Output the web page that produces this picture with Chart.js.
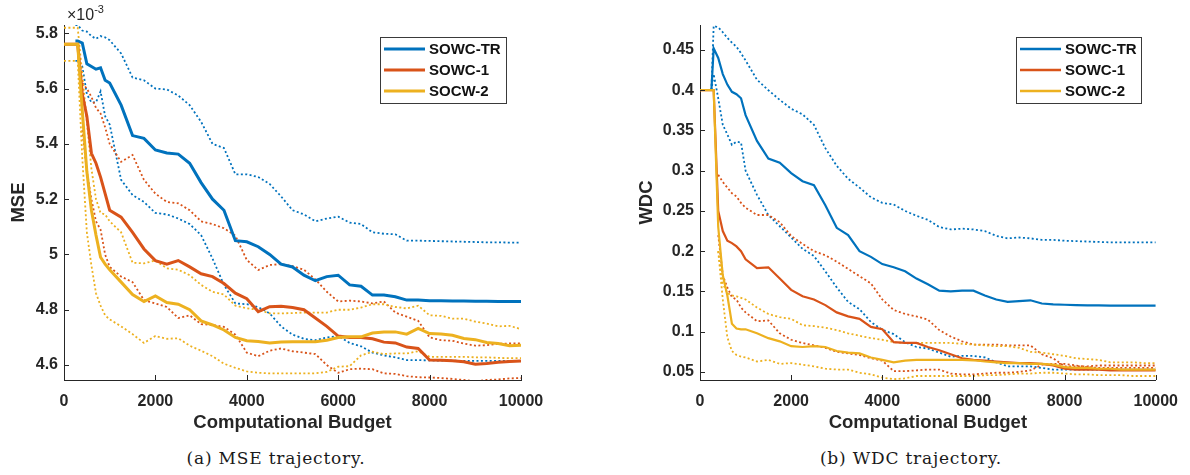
<!DOCTYPE html>
<html>
<head>
<meta charset="utf-8">
<script src="https://cdn.jsdelivr.net/npm/chart.js@4.4.1/dist/chart.umd.min.js"></script>
<style>
html,body{margin:0;padding:0;background:#fff;}
body{width:1190px;height:475px;position:relative;overflow:hidden;}
canvas{position:absolute;top:0;}
#c1{left:0;}
#c2{left:620px;}
.cap{position:absolute;top:447px;font-family:'DejaVu Serif','Liberation Serif',serif;font-size:17px;letter-spacing:0.8px;color:#1a1a1a;transform:translateX(-50%);white-space:nowrap;line-height:22px;}
.mult{position:absolute;left:67px;top:1px;font-family:'Liberation Sans',Arial,sans-serif;font-size:16px;color:#262626;line-height:18px}
.mult sup{font-size:11px;position:relative;top:-1px}
</style>
</head>
<body>
<canvas id="c1" width="560" height="440"></canvas>
<canvas id="c2" width="570" height="440"></canvas>
<div class="mult">×10<sup>-3</sup></div>
<div class="cap" style="left:276px">(a) MSE trajectory.</div>
<div class="cap" style="left:911px">(b) WDC trajectory.</div>
<script>
// ---------- data ----------
const budget = [0,250,300,400,500,600,700,800,900,1000,
  1250,1500,1750,2000,2250,2500,2750,3000,3250,3500,
  3750,4000,4250,4500,4750,5000,5250,5500,5750,6000,
  6250,6500,6750,7000,7250,7500,7750,8000,8250,8500,
  8750,9000,9250,9500,9750,10000];

const xTicks = [0,2000,4000,6000,8000,10000];
const mseTicks = [4.6,4.8,5,5.2,5.4,5.6,5.8];
const wdcTicks = [0.05,0.1,0.15,0.2,0.25,0.3,0.35,0.4,0.45];
const mseNames = ['SOWC-TR','SOWC-1','SOCW-2'];
const wdcNames = ['SOWC-TR','SOWC-1','SOWC-2'];

// MSE (x10^-3)
const mseTR = [null,5.772,5.772,5.765,5.69,5.68,5.67,5.675,5.63,5.62,
  5.54,5.43,5.42,5.378,5.367,5.363,5.33,5.26,5.2,5.16,
  5.05,5.046,5.028,5.0,4.965,4.955,4.925,4.905,4.92,4.925,
  4.89,4.885,4.853,4.853,4.847,4.835,4.835,4.833,4.833,4.832,
  4.832,4.831,4.831,4.83,4.83,4.83];
const mseTRHi = [null,5.83,5.83,5.81,5.806,5.79,5.78,5.79,5.785,5.775,
  5.727,5.64,5.63,5.60,5.597,5.575,5.54,5.48,5.40,5.385,
  5.29,5.29,5.28,5.255,5.21,5.16,5.145,5.12,5.13,5.137,
  5.115,5.11,5.08,5.075,5.073,5.05,5.05,5.049,5.048,5.047,
  5.046,5.045,5.044,5.044,5.043,5.043];
const mseTRLo = [null,5.70,5.70,5.68,5.58,5.55,5.55,5.59,5.50,5.47,
  5.27,5.215,5.19,5.15,5.145,5.13,5.11,5.07,4.985,4.89,
  4.823,4.82,4.81,4.787,4.74,4.71,4.695,4.69,4.70,4.705,
  4.68,4.668,4.645,4.635,4.628,4.618,4.618,4.617,4.616,4.616,
  4.615,4.615,4.615,4.615,4.615,4.615];
const mse1 = [5.76,5.76,5.76,5.58,5.50,5.366,5.33,5.28,5.22,5.16,
  5.135,5.08,5.02,4.978,4.965,4.978,4.955,4.93,4.92,4.895,
  4.86,4.84,4.793,4.811,4.813,4.808,4.80,4.77,4.74,4.705,
  4.70,4.70,4.695,4.683,4.68,4.665,4.66,4.618,4.617,4.616,
  4.612,4.603,4.606,4.61,4.613,4.615];
const mse1Hi = [null,null,null,5.62,5.60,5.57,5.53,5.51,5.46,5.40,
  5.335,5.36,5.27,5.22,5.19,5.185,5.16,5.12,5.11,5.095,
  5.068,4.98,4.944,4.962,4.965,4.958,4.945,4.91,4.865,4.83,
  4.833,4.83,4.823,4.83,4.79,4.775,4.76,4.70,4.69,4.688,
  4.678,4.67,4.672,4.677,4.678,4.678];
const mse1Lo = [null,null,null,5.45,5.30,5.20,5.12,5.09,5.0,4.955,
  4.92,4.90,4.835,4.823,4.81,4.77,4.78,4.748,4.745,4.738,
  4.71,4.645,4.632,4.652,4.66,4.65,4.645,4.64,4.60,4.572,
  4.585,4.587,4.585,4.57,4.568,4.56,4.556,4.555,4.553,4.55,
  4.546,4.542,4.546,4.548,4.552,4.553];
const mse2 = [5.76,5.76,5.76,5.52,5.30,5.16,5.07,4.99,4.965,4.945,
  4.90,4.855,4.83,4.85,4.826,4.82,4.80,4.76,4.745,4.727,
  4.70,4.688,4.685,4.68,4.683,4.684,4.684,4.684,4.69,4.70,
  4.702,4.702,4.716,4.72,4.72,4.712,4.733,4.714,4.712,4.708,
  4.696,4.692,4.682,4.678,4.67,4.672];
const mse2Hi = [5.82,5.82,5.82,5.65,5.48,5.31,5.20,5.15,5.145,5.12,
  5.08,4.97,4.968,4.978,4.95,4.945,4.925,4.89,4.865,4.855,
  4.815,4.805,4.80,4.787,4.787,4.788,4.79,4.79,4.79,4.80,
  4.80,4.808,4.82,4.82,4.81,4.805,4.815,4.78,4.778,4.768,
  4.768,4.757,4.75,4.74,4.742,4.73];
const mse2Lo = [5.70,5.70,5.70,5.35,5.08,4.96,4.86,4.815,4.78,4.765,
  4.74,4.712,4.68,4.705,4.695,4.697,4.67,4.652,4.632,4.605,
  4.59,4.577,4.572,4.57,4.57,4.57,4.57,4.57,4.575,4.594,
  4.596,4.635,4.648,4.64,4.642,4.642,4.65,4.63,4.63,4.63,
  4.63,4.628,4.628,4.626,4.625,4.625];

// WDC
const wdcTR = [null,0.40,0.452,0.44,0.42,0.407,0.398,0.395,0.39,0.369,
  0.337,0.315,0.31,0.297,0.287,0.282,0.257,0.229,0.22,0.2,
  0.193,0.184,0.18,0.175,0.166,0.159,0.151,0.15,0.151,0.151,
  0.145,0.14,0.137,0.138,0.139,0.135,0.134,0.1335,0.133,0.1327,
  0.1326,0.1325,0.1325,0.1325,0.1325,0.1325];
const wdcTRHi = [null,0.40,0.48,0.478,0.472,0.465,0.459,0.454,0.446,0.437,
  0.413,0.40,0.388,0.377,0.37,0.357,0.328,0.306,0.29,0.279,
  0.267,0.26,0.258,0.25,0.244,0.239,0.23,0.227,0.228,0.227,
  0.225,0.219,0.216,0.217,0.216,0.214,0.214,0.213,0.2125,0.212,
  0.2115,0.211,0.211,0.211,0.211,0.211];
const wdcTRLo = [null,0.40,0.42,0.39,0.357,0.345,0.332,0.336,0.335,0.30,
  0.27,0.245,0.231,0.217,0.203,0.194,0.175,0.155,0.137,0.128,
  0.112,0.1025,0.097,0.087,0.081,0.079,0.074,0.069,0.07,0.07,
  0.068,0.062,0.057,0.057,0.057,0.055,0.053,0.053,0.053,0.053,
  0.053,0.053,0.053,0.053,0.053,0.053];
const wdc1 = [0.40,0.40,0.40,0.25,0.225,0.213,0.21,0.206,0.2,0.19,
  0.179,0.18,0.166,0.152,0.144,0.14,0.133,0.124,0.119,0.116,
  0.106,0.103,0.087,0.086,0.086,0.081,0.077,0.072,0.067,0.065,
  0.064,0.063,0.062,0.061,0.061,0.06,0.058,0.054,0.053,0.053,
  0.053,0.052,0.052,0.052,0.052,0.052];
const wdc1Hi = [null,null,null,0.295,0.286,0.279,0.272,0.268,0.26,0.254,
  0.245,0.245,0.236,0.219,0.209,0.2,0.195,0.187,0.178,0.169,
  0.16,0.14,0.127,0.122,0.119,0.115,0.102,0.094,0.088,0.084,
  0.084,0.084,0.083,0.083,0.083,0.072,0.067,0.057,0.057,0.057,
  0.058,0.058,0.058,0.058,0.058,0.058];
const wdc1Lo = [null,null,null,0.22,0.17,0.155,0.143,0.14,0.13,0.124,
  0.113,0.114,0.098,0.09,0.086,0.083,0.08,0.075,0.073,0.071,
  0.067,0.064,0.051,0.051,0.052,0.053,0.053,0.048,0.047,0.047,
  0.048,0.049,0.049,0.05,0.052,0.059,0.06,0.06,0.058,0.056,
  0.055,0.055,0.055,0.055,0.055,0.055];
const wdc2 = [0.40,0.40,0.40,0.23,0.17,0.145,0.11,0.104,0.103,0.103,
  0.098,0.092,0.088,0.082,0.081,0.082,0.081,0.076,0.074,0.073,
  0.068,0.065,0.062,0.064,0.065,0.065,0.065,0.065,0.065,0.0645,
  0.063,0.062,0.061,0.061,0.06,0.06,0.059,0.056,0.055,0.055,
  0.054,0.054,0.053,0.053,0.053,0.053];
const wdc2Hi = [null,null,null,0.2,0.16,0.148,0.145,0.144,0.142,0.14,
  0.13,0.122,0.118,0.116,0.108,0.107,0.105,0.102,0.098,0.095,
  0.092,0.09,0.087,0.086,0.086,0.086,0.086,0.086,0.085,0.084,
  0.083,0.082,0.082,0.08,0.075,0.074,0.072,0.07,0.067,0.066,
  0.065,0.062,0.062,0.062,0.061,0.061];
const wdc2Lo = [null,null,null,0.2,0.14,0.093,0.076,0.071,0.069,0.068,
  0.063,0.065,0.06,0.061,0.059,0.057,0.054,0.053,0.053,0.049,
  0.047,0.043,0.041,0.042,0.045,0.045,0.045,0.045,0.045,0.045,
  0.046,0.046,0.047,0.048,0.048,0.049,0.049,0.048,0.047,0.047,
  0.046,0.046,0.046,0.045,0.045,0.045];

// ---------- styling ----------
const colors = ['#0072BD','#D95319','#EDB120'];
const axisColor = '#262626';
const fontFamily = '"Liberation Sans", Arial, Helvetica, sans-serif';

function pts(arr){ return budget.map((b,k)=>({x:b, y:arr[k]})); }

function buildDatasets(means, his, los, names, solidW){
  const ds = [];
  for(let i=0;i<3;i++){
    ds.push({label:names[i], data:pts(means[i]), borderColor:colors[i], backgroundColor:colors[i],
      borderWidth:solidW, inLegend:true, order:2-i});
  }
  for(let i=0;i<3;i++){
    [his[i], los[i]].forEach(a=>{
      ds.push({label:names[i]+' bound', data:pts(a), borderColor:colors[i], backgroundColor:colors[i],
        borderWidth:1.8, borderDash:[2,2.4], inLegend:false, order:5-i});
    });
  }
  return ds;
}

const boxLegend = {
  id:'boxLegend',
  afterDraw(chart, args, o){
    const {ctx, chartArea:ca} = chart;
    const items = chart.data.datasets.filter(d=>d.inLegend);
    const x0 = Math.round(ca.right - o.inset - o.width), y0 = Math.round(ca.top + o.top);
    const rowH = 21, padY = 1.5;
    const h = rowH*items.length + padY*2;
    ctx.save();
    ctx.fillStyle = '#fff';
    ctx.fillRect(x0, y0, o.width, h);
    ctx.strokeStyle = '#3a3a3a'; ctx.lineWidth = 1;
    ctx.strokeRect(x0+0.5, y0+0.5, o.width, h);
    ctx.font = 'bold 15px ' + fontFamily;
    ctx.textBaseline = 'middle';
    items.forEach((d,i)=>{
      const cy = y0 + padY + rowH*(i+0.5);
      ctx.strokeStyle = d.borderColor; ctx.lineWidth = o.lineW;
      ctx.beginPath(); ctx.moveTo(x0+4, cy); ctx.lineTo(x0+45, cy); ctx.stroke();
      ctx.fillStyle = '#111';
      ctx.fillText(d.label, x0+49, cy+1);
    });
    ctx.restore();
  }
};

const inTicks = {
  id:'inTicks',
  afterDraw(chart){
    const {ctx, chartArea:ca, scales:{x, y}} = chart;
    ctx.save();
    ctx.strokeStyle = axisColor; ctx.lineWidth = 1;
    x.ticks.forEach(t=>{
      const px = Math.round(x.getPixelForValue(t.value)) + 0.5;
      ctx.beginPath(); ctx.moveTo(px, ca.bottom); ctx.lineTo(px, ca.bottom-5); ctx.stroke();
    });
    y.ticks.forEach(t=>{
      const py = Math.round(y.getPixelForValue(t.value)) + 0.5;
      ctx.beginPath(); ctx.moveTo(ca.left, py); ctx.lineTo(ca.left+5, py); ctx.stroke();
    });
    ctx.restore();
  }
};

function makeChart(id, opts){
  return new Chart(document.getElementById(id), {
    type:'line',
    data:{datasets:opts.datasets},
    options:{
      responsive:false, animation:false, events:[],
      elements:{point:{radius:0}, line:{tension:0, fill:false, borderCapStyle:'butt', borderJoinStyle:'miter'}},
      layout:{padding:{top:25, right:opts.padRight, bottom:0, left:0}},
      plugins:{
        legend:{display:false}, tooltip:{enabled:false},
        boxLegend:{inset:opts.legInset, top:12, width:opts.legWidth, lineW:opts.legLineW}
      },
      scales:{
        x:{type:'linear', min:0, max:10000,
          afterBuildTicks:s=>{ s.ticks = xTicks.map(v=>({value:v})); },
          afterFit:s=>{ s.height = 60; },
          grid:{display:false, drawTicks:false},
          border:{display:true, color:axisColor, width:1},
          ticks:{padding:12, autoSkip:false, maxRotation:0, color:axisColor,
            font:{family:fontFamily, size:16, weight:'bold'}, callback:v=>String(v)},
          title:{display:true, text:'Computational Budget', color:axisColor,
            font:{family:fontFamily, size:18.5, weight:'bold'}, padding:{top:0, bottom:6}}
        },
        y:{type:'linear', min:opts.ymin, max:opts.ymax,
          afterBuildTicks:s=>{ s.ticks = opts.yTicks.map(v=>({value:v})); },
          afterFit:s=>{ s.width = opts.yWidth; },
          grid:{display:false, drawTicks:false},
          border:{display:true, color:axisColor, width:1},
          ticks:{padding:6, autoSkip:false, color:axisColor,
            font:{family:fontFamily, size:16, weight:'bold'}, callback:v=>String(+v.toFixed(3))},
          title:{display:true, text:opts.yTitle, color:axisColor,
            font:{family:fontFamily, size:18.5, weight:'bold'}, padding:{top:opts.yTitlePad, bottom:0}}
        }
      }
    },
    plugins:[boxLegend, inTicks]
  });
}

makeChart('c1', {
  datasets: buildDatasets([mseTR, mse1, mse2], [mseTRHi, mse1Hi, mse2Hi], [mseTRLo, mse1Lo, mse2Lo], mseNames, 3),
  padRight:39, yWidth:64, ymin:4.546, ymax:5.83, yTicks:mseTicks, yTitle:'MSE', yTitlePad:8,
  legInset:15, legWidth:126, legLineW:3
});
makeChart('c2', {
  datasets: buildDatasets([wdcTR, wdc1, wdc2], [wdcTRHi, wdc1Hi, wdc2Hi], [wdcTRLo, wdc1Lo, wdc2Lo], wdcNames, 2.2),
  padRight:33, yWidth:80, ymin:0.04, ymax:0.481, yTicks:wdcTicks, yTitle:'WDC', yTitlePad:16,
  legInset:15, legWidth:125, legLineW:2.5
});
</script>
</body>
</html>
